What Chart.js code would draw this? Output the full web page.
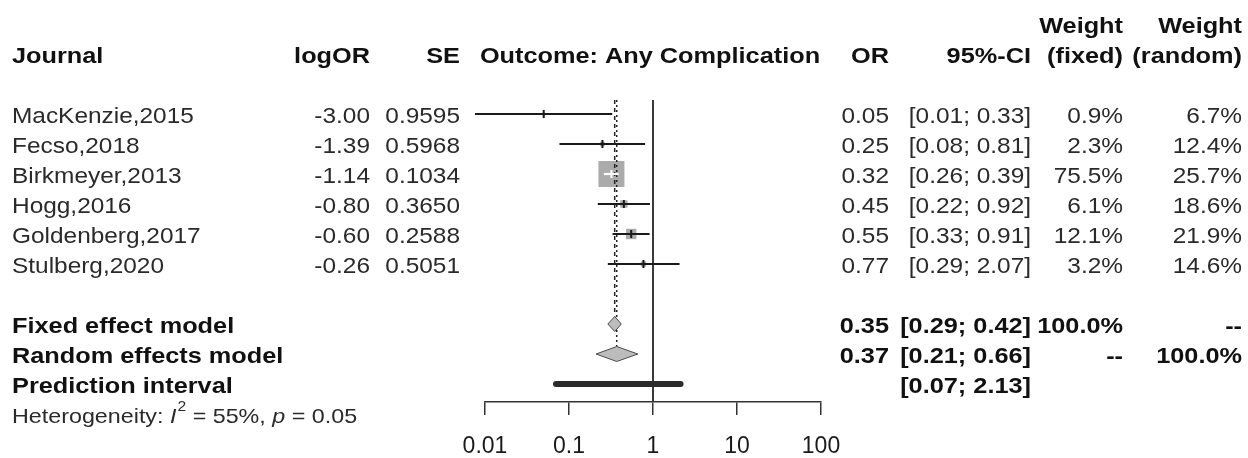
<!DOCTYPE html>
<html>
<head>
<meta charset="utf-8">
<script src="https://cdn.jsdelivr.net/npm/chart.js@4.4.0/dist/chart.umd.min.js"></script>
<style>
  html, body { margin: 0; padding: 0; background: #fff; }
  #wrap { width: 1248px; height: 458px; }
</style>
</head>
<body>
<div id="wrap"><canvas id="forest"></canvas></div>
<script>
// study data
const studies = ["MacKenzie,2015", "Fecso,2018", "Birkmeyer,2013", "Hogg,2016", "Goldenberg,2017", "Stulberg,2020"];
const logOR = [-3.00, -1.39, -1.14, -0.80, -0.60, -0.26];
const seLog = [0.9595, 0.5968, 0.1034, 0.3650, 0.2588, 0.5051];
const oddsRatio = [0.05, 0.25, 0.32, 0.45, 0.55, 0.77];
const ciLower = [0.0076, 0.077, 0.26, 0.22, 0.33, 0.29];
const ciUpper = [0.327, 0.805, 0.39, 0.92, 0.91, 2.07];
const weightFixed = [0.9, 2.3, 75.5, 6.1, 12.1, 3.2];
const weightRandom = [6.7, 12.4, 25.7, 18.6, 21.9, 14.6];
const studyRows = [1, 2, 3, 4, 5, 6];

// pooled estimates
const summaryLabels = ["Fixed effect model", "Random effects model"];
const summaryOR = [0.35, 0.37];
const summaryLower = [0.29, 0.21];
const summaryUpper = [0.42, 0.66];
const summaryWFixed = ["100.0%", "--"];
const summaryWRandom = ["--", "100.0%"];
const summaryRows = [8, 9];

const predLabel = "Prediction interval";
const predLower = 0.07;
const predUpper = 2.13;
const predRow = 10;

const xTicks = [0.01, 0.1, 1, 10, 100];

const SX = 1.12; // source text is a bit wide
const FONT = '"Liberation Sans", Arial, sans-serif';
const maxSide = 26;
const squareSide = i => maxSide * Math.sqrt(weightFixed[i] / Math.max(...weightFixed));

function ciInsideBox(chart, i) {
  const x = chart.scales && chart.scales.x;
  if (!x) return false;
  return x.getPixelForValue(ciUpper[i]) - x.getPixelForValue(ciLower[i]) < squareSide(i);
}

function txt(ctx, s, x, y, align, bold, size, italic) {
  ctx.save();
  ctx.font = (italic ? "italic " : "") + (bold ? "bold " : "") + size + "px " + FONT;
  ctx.fillStyle = bold ? "#111" : "#2a2a2a";
  ctx.textBaseline = "middle";
  ctx.textAlign = align;
  ctx.translate(x, y);
  ctx.scale(SX, 1);
  ctx.fillText(s, 0, 0);
  const w = ctx.measureText(s).width * SX;
  ctx.restore();
  return w;
}

const ciText = (lo, hi) => "[" + lo.toFixed(2) + "; " + hi.toFixed(2) + "]";

const tablePlugin = {
  id: "forestTable",
  afterDraw(chart) {
    const ctx = chart.ctx;
    const y = chart.scales.y;
    const area = chart.chartArea;
    const reg = 21.8, bld = 22.6;
    const col = { logor: 370, se: 460, or: 889, ci: 1031, wf: 1123, wr: 1242 };

    // header
    txt(ctx, "Journal", 12, 57, "left", true, bld);
    txt(ctx, "logOR", col.logor, 57, "right", true, bld);
    txt(ctx, "SE", col.se, 57, "right", true, bld);
    txt(ctx, "Outcome: Any Complication", (area.left + area.right) / 2 - 3, 57, "center", true, bld);
    txt(ctx, "OR", col.or, 57, "right", true, bld);
    txt(ctx, "95%-CI", col.ci, 57, "right", true, bld);
    txt(ctx, "Weight", col.wf, 27, "right", true, bld);
    txt(ctx, "(fixed)", col.wf, 57, "right", true, bld);
    txt(ctx, "Weight", col.wr, 27, "right", true, bld);
    txt(ctx, "(random)", col.wr, 57, "right", true, bld);

    studies.forEach((name, i) => {
      const py = y.getPixelForValue(studyRows[i]) + 2.5;
      txt(ctx, name, 12, py, "left", false, reg);
      txt(ctx, logOR[i].toFixed(2), col.logor, py, "right", false, reg);
      txt(ctx, seLog[i].toFixed(4), col.se, py, "right", false, reg);
      txt(ctx, oddsRatio[i].toFixed(2), col.or, py, "right", false, reg);
      txt(ctx, ciText(ciLower[i], ciUpper[i]), col.ci, py, "right", false, reg);
      txt(ctx, weightFixed[i].toFixed(1) + "%", col.wf, py, "right", false, reg);
      txt(ctx, weightRandom[i].toFixed(1) + "%", col.wr, py, "right", false, reg);
    });

    summaryLabels.forEach((name, i) => {
      const py = y.getPixelForValue(summaryRows[i]) + 2.5;
      txt(ctx, name, 12, py, "left", true, bld);
      txt(ctx, summaryOR[i].toFixed(2), col.or, py, "right", true, bld);
      txt(ctx, ciText(summaryLower[i], summaryUpper[i]), col.ci, py, "right", true, bld);
      txt(ctx, summaryWFixed[i], col.wf, py, "right", true, bld);
      txt(ctx, summaryWRandom[i], col.wr, py, "right", true, bld);
    });

    const pp = y.getPixelForValue(predRow) + 2.5;
    txt(ctx, predLabel, 12, pp, "left", true, bld);
    txt(ctx, ciText(predLower, predUpper), col.ci, pp, "right", true, bld);

    // heterogeneity line, italic I^2 and p
    const hy = pp + 31;
    const hs = 20.8;
    let hx = 12;
    hx += txt(ctx, "Heterogeneity: ", hx, hy, "left", false, hs);
    hx += txt(ctx, "I", hx, hy, "left", false, hs, true) + 1;
    hx += txt(ctx, "2", hx, hy - 10, "left", false, 14);
    hx += txt(ctx, " = 55%, ", hx, hy, "left", false, hs);
    hx += txt(ctx, "p", hx, hy, "left", false, hs, true);
    txt(ctx, " = 0.05", hx, hy, "left", false, hs);
  }
};

const datasets = [];

// study squares (size by fixed weight)
datasets.push({
  data: studyRows.map((r, i) => ({ x: oddsRatio[i], y: r })),
  pointStyle: "rect",
  pointRadius: ctx => squareSide(ctx.dataIndex) / Math.SQRT2,
  backgroundColor: "#ababab",
  borderWidth: 0,
  order: 6
});

// confidence intervals
studyRows.forEach((r, i) => {
  datasets.push({
    data: [{ x: ciLower[i], y: r }, { x: ciUpper[i], y: r }],
    showLine: true,
    borderColor: ctx => ciInsideBox(ctx.chart, i) ? "#ffffff" : "#1a1a1a",
    borderWidth: 2.2,
    pointRadius: 0,
    clip: false,
    order: 3
  });
});

// estimate tick marks
datasets.push({
  data: studyRows.map((r, i) => ({ x: oddsRatio[i], y: r })),
  pointStyle: "line",
  rotation: 90,
  pointRadius: 4,
  pointBorderWidth: 2,
  pointBorderColor: ctx => ciInsideBox(ctx.chart, ctx.dataIndex) ? "#ffffff" : "#1a1a1a",
  order: 1
});

// line of no effect
datasets.push({
  data: [{ x: 1, y: 0.53 }, { x: 1, y: 10.6 }],
  showLine: true,
  borderColor: "#3a3a3a",
  borderWidth: 2,
  pointRadius: 0,
  order: 5
});

// pooled estimate reference lines
datasets.push({
  data: [{ x: summaryOR[0], y: 0.53 }, { x: summaryOR[0], y: summaryRows[0] - 0.25 }],
  showLine: true,
  borderColor: "#222",
  borderWidth: 1.5,
  borderDash: [4, 4],
  pointRadius: 0,
  order: 4
});
datasets.push({
  data: [{ x: summaryOR[1], y: 0.53 }, { x: summaryOR[1], y: summaryRows[1] - 0.25 }],
  showLine: true,
  borderColor: "#222",
  borderWidth: 1.5,
  borderDash: [2, 3],
  pointRadius: 0,
  order: 4
});

// diamonds
summaryRows.forEach((r, i) => {
  datasets.push({
    data: [
      { x: summaryLower[i], y: r },
      { x: summaryOR[i], y: r - 0.25 },
      { x: summaryUpper[i], y: r },
      { x: summaryOR[i], y: r + 0.25 },
      { x: summaryLower[i], y: r }
    ],
    showLine: true,
    fill: "shape",
    backgroundColor: "#bcbcbc",
    borderColor: "#4a4a4a",
    borderWidth: 1,
    tension: 0,
    pointRadius: 0,
    order: 2
  });
});

// prediction interval bar
datasets.push({
  data: [{ x: predLower, y: predRow }, { x: predUpper, y: predRow }],
  showLine: true,
  borderColor: "#2b2b2b",
  borderWidth: 6,
  borderCapStyle: "round",
  pointRadius: 0,
  order: 2
});

new Chart(document.getElementById("forest"), {
  type: "scatter",
  data: { datasets },
  options: {
    responsive: true,
    maintainAspectRatio: false,
    animation: false,
    events: [],
    layout: { padding: { left: 485, right: 427, top: 99, bottom: 0 } },
    plugins: { legend: { display: false }, tooltip: { enabled: false } },
    scales: {
      x: {
        type: "logarithmic",
        min: 0.01,
        max: 100,
        afterBuildTicks: scale => { scale.ticks = xTicks.map(v => ({ value: v })); },
        afterFit: scale => { scale.height = 56; },
        ticks: {
          autoSkip: false,
          maxRotation: 0,
          padding: 18,
          color: "#1a1a1a",
          font: { family: FONT, size: 23 },
          callback: v => String(v)
        },
        grid: { display: true, drawOnChartArea: false, drawTicks: true, tickLength: 13, color: "#333", lineWidth: 1.5 },
        border: { display: true, color: "#333", width: 1.5 }
      },
      y: {
        type: "linear",
        min: 0.5,
        max: 10.6,
        reverse: true,
        display: false
      }
    }
  },
  plugins: [tablePlugin]
});
</script>
</body>
</html>
